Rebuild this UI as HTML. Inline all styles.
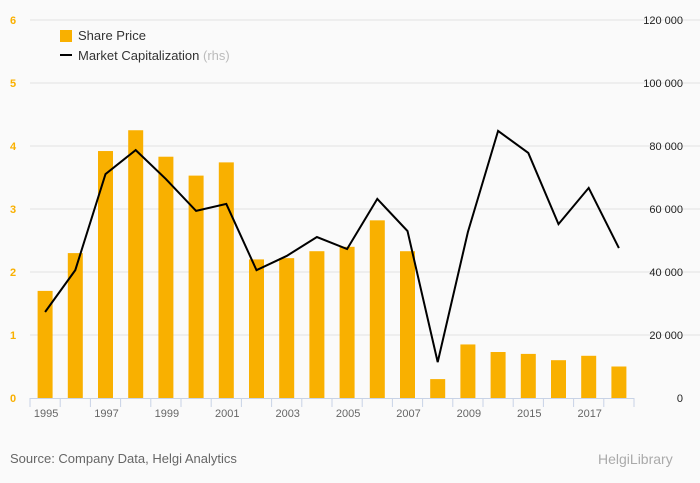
<!DOCTYPE html>
<html><head><meta charset="utf-8"><style>
body{margin:0;background:#fafafa;font-family:"Liberation Sans",sans-serif;}
svg{display:block}
</style></head><body>
<svg id="c" width="700" height="483">
<rect width="700" height="483" fill="#fafafa"/>
<g id="grid"></g><g id="bars"></g><g id="line"></g><g id="axes"></g>
<g>
<rect x="60" y="30" width="12" height="12" fill="#f9b000"/>
<text x="78" y="40" font-size="13" fill="#333">Share Price</text>
<rect x="60" y="54" width="12" height="2" fill="#000"/>
<text x="78" y="60" font-size="13" fill="#333">Market Capitalization <tspan fill="#bbb">(rhs)</tspan></text>
</g>
<text x="10" y="463" font-size="13" fill="#666">Source: Company Data, Helgi Analytics</text>
<text x="598" y="464" font-size="14" fill="#aaa">HelgiLibrary</text>
</svg>
<script>
const categories=["1995","1996","1997","1998","1999","2000","2001","2002","2003","2004","2005","2006","2007","2008","2009","2014","2015","2016","2017","2018"];
const sharePrice=[1.7,2.3,3.92,4.25,3.83,3.53,3.74,2.2,2.22,2.33,2.4,2.82,2.33,0.3,0.85,0.73,0.7,0.6,0.67,0.5];
const marketCap=[27300,40600,71100,78700,69500,59400,61600,40600,45100,51100,47300,63200,53000,11400,52700,84800,77800,55200,66700,47600];
const leftTicks=[0,1,2,3,4,5,6];
const rightTicks=["0","20 000","40 000","60 000","80 000","100 000","120 000"];
const NS="http://www.w3.org/2000/svg";
const x0=30,x1=634,y0=398,yTop=20,bw=(x1-x0)/categories.length;
const yL=v=>y0-(v/6)*(y0-yTop);
const yR=v=>y0-(v/120000)*(y0-yTop);
const xC=i=>x0+bw*(i+0.5);
function mk(tag,attrs,parent){const e=document.createElementNS(NS,tag);for(const k in attrs)e.setAttribute(k,attrs[k]);document.getElementById(parent).appendChild(e);return e;}
leftTicks.forEach((t,i)=>{
 const y=yL(t);
 if(t>0){const g=mk('line',{x1:x0,x2:700,y1:y,y2:y,stroke:'#e2e2e2'},'grid');
 
 }
 const l=mk('text',{x:13,y:y+4,'font-size':11,fill:'#f9b000','text-anchor':'middle','font-weight':'bold'},'axes');l.textContent=t;
 
 
 const r=mk('text',{x:683,y:y+4,'font-size':11,fill:'#222','text-anchor':'end'},'axes');r.textContent=rightTicks[i];
 
 
});
sharePrice.forEach((v,i)=>{
 const b=mk('rect',{x:xC(i)-7.5,y:yL(v),width:15,height:y0-yL(v),fill:'#f9b000'},'bars');
 
 
});
const p=mk('polyline',{points:marketCap.map((v,i)=>xC(i)+','+yR(v)).join(' '),fill:'none',stroke:'#000','stroke-width':2,'stroke-linejoin':'miter'},'line');


const ax=mk('line',{x1:x0,x2:x1,y1:y0+0.5,y2:y0+0.5,stroke:'#c8d3e6'},'axes');


for(let i=0;i<=categories.length;i++){
 const t=mk('line',{x1:x0+bw*i,x2:x0+bw*i,y1:y0,y2:y0+9,stroke:'#c8d3e6'},'axes');
 
 
}
categories.forEach((c,i)=>{if(i%2)return;
 const t=mk('text',{x:xC(i)+1,y:417,'font-size':11,fill:'#666','text-anchor':'middle'},'axes');t.textContent=c;
 
 
});
</script>
</body></html>
